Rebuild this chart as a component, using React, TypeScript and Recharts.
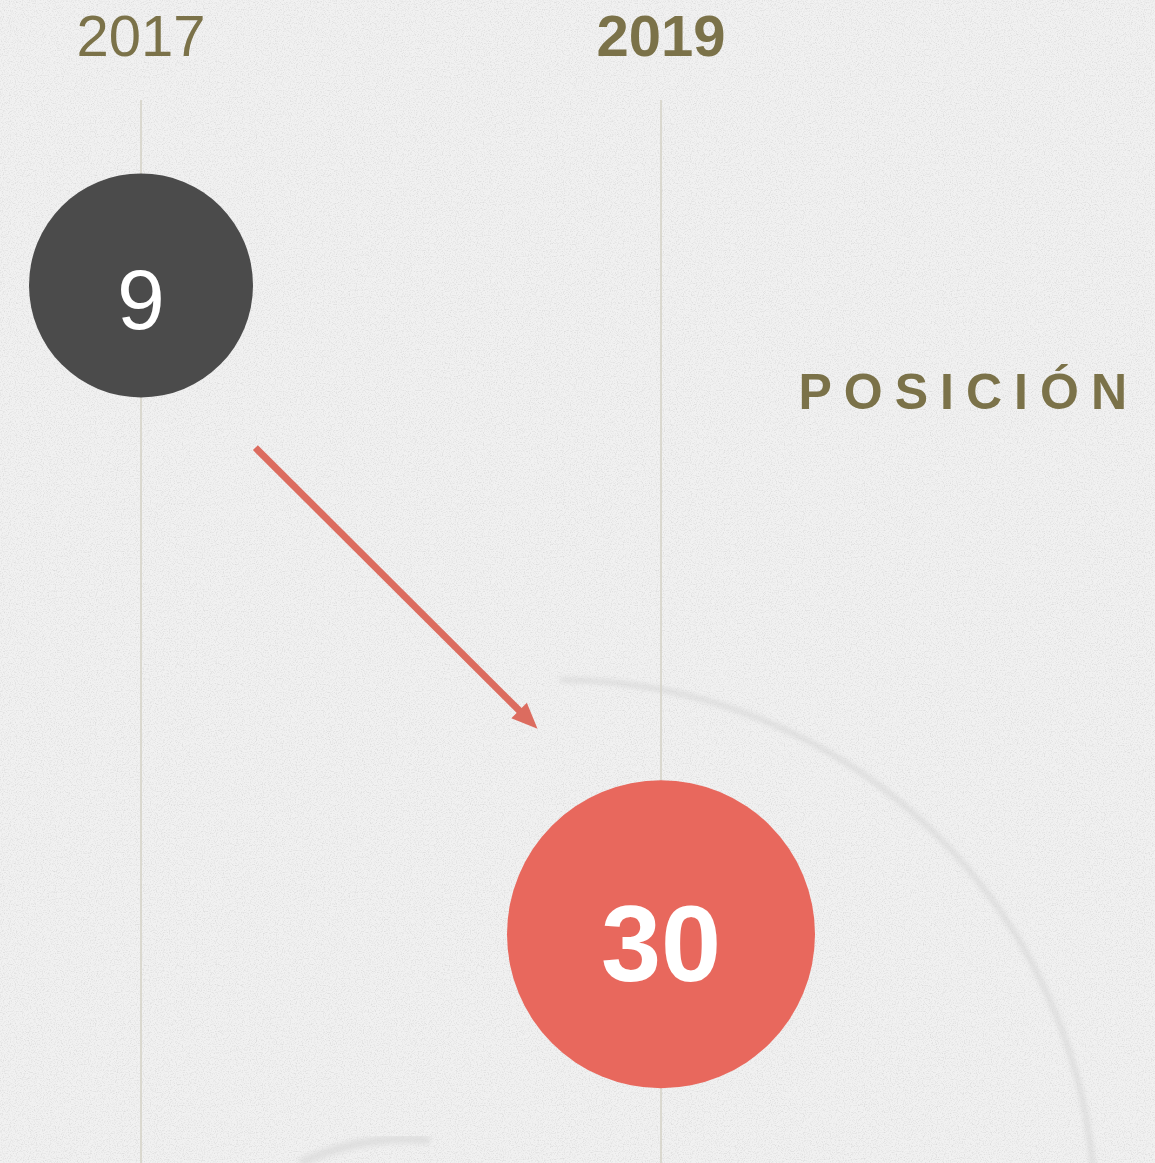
import { ScatterChart, Scatter, XAxis, YAxis, ZAxis, ReferenceLine } from "recharts";

// ranking by edition
const years = [2017, 2019];
const positions = [9, 30];
const yearTicks = [2017, 2019];
const valueLabels = ["9", "30"];

const data = years.map((year, i) => ({ year, position: positions[i], label: valueLabels[i] }));

const WIDTH = 1155;
const HEIGHT = 1163;
const FONT = "'Liberation Sans', Arial, Helvetica, sans-serif";
const OLIVE = "#7b7249";
const ARROW = "#dc6c5f";

// per-edition bubble look
const bubbleStyle: Record<number, { r: number; fill: string; fontSize: number; weight: number; dy: number }> = {
  2017: { r: 112, fill: "#4b4b4b", fontSize: 86, weight: 400, dy: 44 },
  2019: { r: 154, fill: "#e8685d", fontSize: 108, weight: 700, dy: 47 },
};

// arrow between the two editions, offset from the bubble centres (data units)
const arrowSegment = [
  { x: years[0] + 0.44, y: positions[0] + 5.25 },
  { x: years[1] - 0.475, y: positions[1] - 6.65 },
];

function YearTick(props: any) {
  const { x, y, payload } = props;
  const latest = payload.value === years[years.length - 1];
  return (
    <text
      x={x}
      y={y - 36}
      textAnchor="middle"
      fill={OLIVE}
      fontFamily={FONT}
      fontSize={58}
      fontWeight={latest ? 700 : 400}
    >
      {payload.value}
    </text>
  );
}

function Bubble(props: any) {
  const { cx, cy, payload } = props;
  const s = bubbleStyle[payload.year];
  return (
    <g>
      <circle cx={cx} cy={cy} r={s.r} fill={s.fill} />
      <text
        x={cx}
        y={cy + s.dy}
        textAnchor="middle"
        fill="#ffffff"
        fontFamily={FONT}
        fontSize={s.fontSize}
        fontWeight={s.weight}
      >
        {payload.label}
      </text>
    </g>
  );
}

function Arrow(props: any) {
  const { x1, y1, x2, y2 } = props;
  const dx = x2 - x1;
  const dy = y2 - y1;
  const len = Math.sqrt(dx * dx + dy * dy);
  const ux = dx / len;
  const uy = dy / len;
  const head = 26;
  const half = 11;
  const bx = x2 - ux * head;
  const by = y2 - uy * head;
  const pts = [
    `${x2},${y2}`,
    `${bx - uy * half},${by + ux * half}`,
    `${bx + uy * half},${by - ux * half}`,
  ].join(" ");
  return (
    <g>
      <line x1={x1} y1={y1} x2={bx + ux * 3} y2={by + uy * 3} stroke={ARROW} strokeWidth={7} />
      <polygon points={pts} fill={ARROW} />
    </g>
  );
}

function Backdrop() {
  return (
    <svg width={WIDTH} height={HEIGHT} style={{ position: "absolute", left: 0, top: 0 }}>
      <defs>
        <filter id="grain" x="0" y="0" width="100%" height="100%">
          <feTurbulence type="fractalNoise" baseFrequency="0.85" numOctaves="2" stitchTiles="stitch" />
          <feColorMatrix
            type="matrix"
            values="0 0 0 0 0.6  0 0 0 0 0.6  0 0 0 0 0.6  2.6 0 0 0 -1.2"
          />
        </filter>
        <filter id="soft" x="-10%" y="-10%" width="120%" height="120%">
          <feGaussianBlur stdDeviation="2.5" />
        </filter>
      </defs>
      <rect width={WIDTH} height={HEIGHT} fill="#f1f1f1" />
      <rect width={WIDTH} height={HEIGHT} filter="url(#grain)" opacity={0.55} />
      <path
        d="M 560 680 A 535 535 0 0 1 1095 1215"
        fill="none"
        stroke="#d6d6d6"
        strokeWidth={5}
        opacity={0.75}
        filter="url(#soft)"
      />
      <path
        d="M 300 1163 A 260 260 0 0 1 430 1140"
        fill="none"
        stroke="#d9d9d9"
        strokeWidth={9}
        opacity={0.7}
        filter="url(#soft)"
      />
      <text
        x={1139}
        y={409}
        textAnchor="end"
        fill={OLIVE}
        fontFamily={FONT}
        fontSize={50}
        fontWeight={700}
        letterSpacing={12}
      >
        POSICIÓN
      </text>
    </svg>
  );
}

export default function App() {
  return (
    <div style={{ position: "absolute", left: 0, top: 0, width: WIDTH, height: HEIGHT, overflow: "hidden" }}>
      <Backdrop />
      <div style={{ position: "absolute", left: 0, top: 0 }}>
        <ScatterChart width={WIDTH} height={HEIGHT} margin={{ top: 40, right: 0, bottom: 0, left: 11 }}>
          <XAxis
            type="number"
            dataKey="year"
            orientation="top"
            height={60}
            domain={[2016.5, 2020.9]}
            ticks={yearTicks}
            axisLine={false}
            tickLine={false}
            tick={<YearTick />}
          />
          <YAxis type="number" dataKey="position" reversed domain={[3, 37.4]} hide />
          <ZAxis range={[100, 100]} />
          {yearTicks.map((t) => (
            <ReferenceLine key={t} x={t} stroke="#d3d1c5" strokeWidth={1.5} />
          ))}
          <ReferenceLine segment={arrowSegment} shape={(p: any) => <Arrow {...p} />} ifOverflow="visible" />
          <Scatter data={data} shape={<Bubble />} isAnimationActive={false} />
        </ScatterChart>
      </div>
    </div>
  );
}
